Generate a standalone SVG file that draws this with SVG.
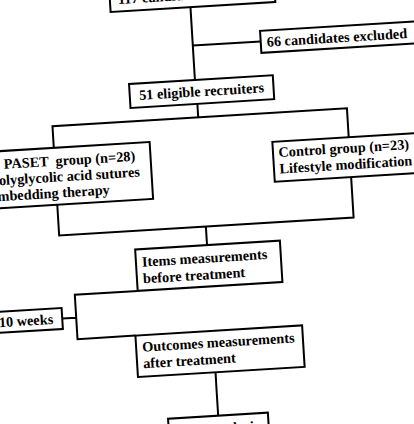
<svg xmlns="http://www.w3.org/2000/svg" width="414" height="424" viewBox="0 0 414 424">
<style>
.box{fill:#fff;stroke:#000;stroke-width:2}
.ln{fill:none;stroke:#000;stroke-width:2}
text{font-family:"Liberation Serif","Times New Roman",serif;font-weight:bold;font-size:14.3px;fill:#000}
</style>
<rect width="414" height="424" fill="#fff"/>
<g transform="rotate(-3.5 207 212)">
<g id="connectors">
<path class="ln" d="M203 6.5V79.5M203 45H271"/>
<path class="ln" d="M204 103.5V117M58 138.6V117H353V146"/>
<path class="ln" d="M58 195.6V226.4H353V186M205 226.4V245"/>
<path class="ln" d="M133 286.5H70V331H128M56 309.5H70"/>
<path class="ln" d="M205.7 372.5V416"/>
</g>
<g id="n_screened"><rect class="box" x="123" y="-40" width="165" height="46.5"/><text x="131" y="-1">117 candidates screened</text></g>
<g id="n_excluded"><rect class="box" x="271" y="34.5" width="162" height="22"/><text x="277" y="50.7">66 candidates excluded</text></g>
<g id="n_eligible"><rect class="box" x="137" y="79.5" width="144" height="24"/><text x="209" y="96" text-anchor="middle">51 eligible recruiters</text></g>
<g id="n_paset"><rect class="box" x="-25" y="138.6" width="179" height="57"/><text x="7" y="156.5" xml:space="preserve">PASET  group (n=28)</text><text x="-7.5" y="172.5">Polyglycolic acid sutures</text><text x="-7.5" y="188.5">embedding therapy</text></g>
<g id="n_control"><rect class="box" x="276.5" y="146" width="152" height="40"/><text x="282" y="161.5">Control group (n=23)</text><text x="282" y="178">Lifestyle modification</text></g>
<g id="n_before"><rect class="box" x="133" y="245" width="145" height="41.5"/><text x="139" y="262.6">Items measurements</text><text x="139" y="279.3">before treatment</text></g>
<g id="n_weeks"><rect class="box" x="-20" y="299" width="76" height="21"/><text x="-7.5" y="314.3">10 weeks</text></g>
<g id="n_after"><rect class="box" x="128" y="331" width="167" height="41.5"/><text x="134" y="347.5">Outcomes measurements</text><text x="134" y="364">after treatment</text></g>
<g id="n_analysis"><rect class="box" x="155.5" y="416" width="100" height="30"/><text x="205.5" y="433.5" text-anchor="middle">Data analysis</text></g>
</g>
</svg>
